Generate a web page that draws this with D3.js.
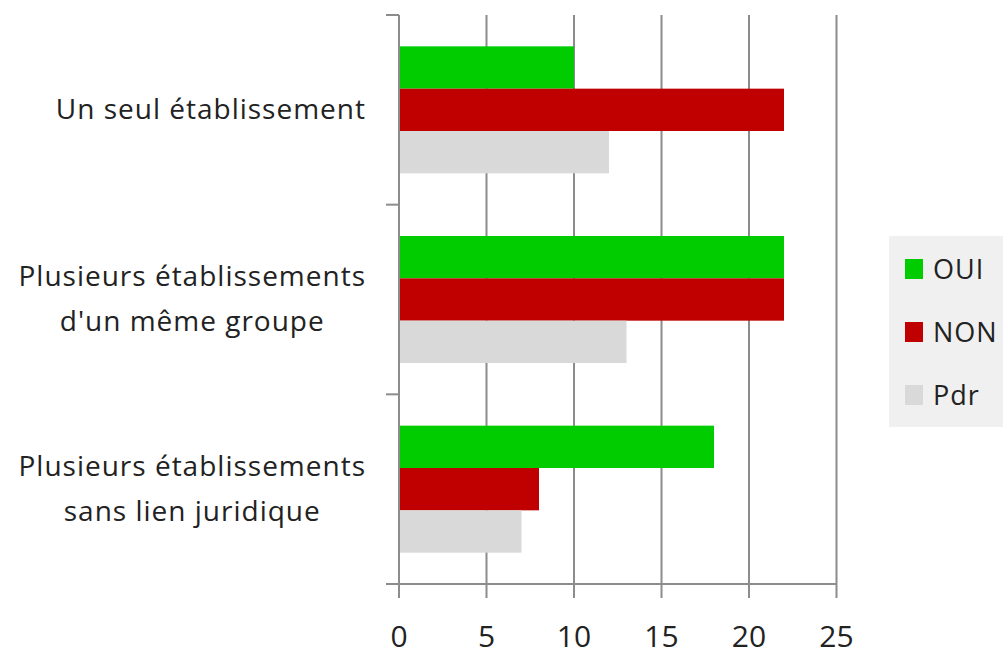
<!DOCTYPE html>
<html>
<head>
<meta charset="utf-8">
<script src="https://cdn.jsdelivr.net/npm/d3@7"></script>
<style>
  body { margin: 0; background: #fff; }
  text { font-family: "Open Sans", sans-serif; fill: #222; }
</style>
</head>
<body>
<svg id="chart" width="1003" height="655"></svg>
<script>
var categories = [
  ["Un seul établissement"],
  ["Plusieurs établissements", "d'un même groupe"],
  ["Plusieurs établissements", "sans lien juridique"]
];
var seriesNames = ["OUI", "NON", "Pdr"];
var seriesColors = ["#00cc00", "#c00000", "#d9d9d9"];
var oui = [10, 22, 18];
var non = [22, 22, 8];
var pdr = [12, 13, 7];
var xTicks = [0, 5, 10, 15, 20, 25];

var values = [oui, non, pdr];
var svg = d3.select("#chart");

var x = d3.scaleLinear().domain([0, 25]).range([399, 836.5]);
var y0 = d3.scaleBand().domain(d3.range(categories.length)).range([15, 584]);
var y1 = d3.scaleBand().domain(d3.range(seriesNames.length))
  .range([0, y0.bandwidth()]).paddingOuter(0.74).paddingInner(0);

// gridlines + x ticks
svg.append("g").selectAll("line").data(xTicks).join("line")
  .attr("x1", d => x(d)).attr("x2", d => x(d))
  .attr("y1", 15).attr("y2", 598)
  .attr("stroke", "#8c8c8c").attr("stroke-width", 2);

// bars
categories.forEach(function(c, i) {
  svg.append("g").selectAll("rect").data(values.map(v => v[i])).join("rect")
    .attr("x", x(0))
    .attr("y", (d, j) => y0(i) + y1(j))
    .attr("width", d => x(d) - x(0))
    .attr("height", y1.bandwidth())
    .attr("fill", (d, j) => seriesColors[j]);
});

// y axis line and ticks
var yTicks = d3.range(categories.length + 1).map(i => 15 + i * y0.step());
svg.append("line").attr("x1", x(0)).attr("x2", x(0)).attr("y1", 15).attr("y2", 598)
  .attr("stroke", "#8c8c8c").attr("stroke-width", 2);
svg.append("g").selectAll("line").data(yTicks).join("line")
  .attr("x1", 386).attr("x2", x(0))
  .attr("y1", d => d).attr("y2", d => d)
  .attr("stroke", "#8c8c8c").attr("stroke-width", 2);
svg.append("line").attr("x1", 386).attr("x2", x(25)).attr("y1", 584).attr("y2", 584)
  .attr("stroke", "#8c8c8c").attr("stroke-width", 2);

// x tick labels
svg.append("g").selectAll("text").data(xTicks).join("text")
  .attr("x", d => x(d)).attr("y", 647)
  .attr("text-anchor", "middle")
  .attr("font-size", 30)
  .text(d => d);

// category labels
categories.forEach(function(lines, i) {
  var cy = y0(i) + y0.bandwidth() / 2;
  var t = svg.append("text")
    .attr("font-size", 28)
    .attr("letter-spacing", 1)
    .attr("text-anchor", "middle");
  lines.forEach(function(l, k) {
    t.append("tspan").attr("x", 0)
      .attr("y", cy + (k - (lines.length - 1) / 2) * 45 + 9)
      .text(l);
  });
  var w = t.node().getBBox().width;
  t.attr("transform", "translate(" + (366 - w / 2) + ",0)");
});

// legend
var lg = svg.append("g");
lg.append("rect").attr("x", 889).attr("y", 236).attr("width", 120).attr("height", 191)
  .attr("fill", "#f0f0f0");
seriesNames.forEach(function(s, j) {
  var cy = 269 + j * 63;
  lg.append("rect").attr("x", 905).attr("y", cy - 10).attr("width", 18).attr("height", 20)
    .attr("fill", seriesColors[j]);
  lg.append("text").attr("x", 933).attr("y", cy + 10).attr("font-size", 27)
    .attr("letter-spacing", 1).text(s);
});
</script>
</body>
</html>
